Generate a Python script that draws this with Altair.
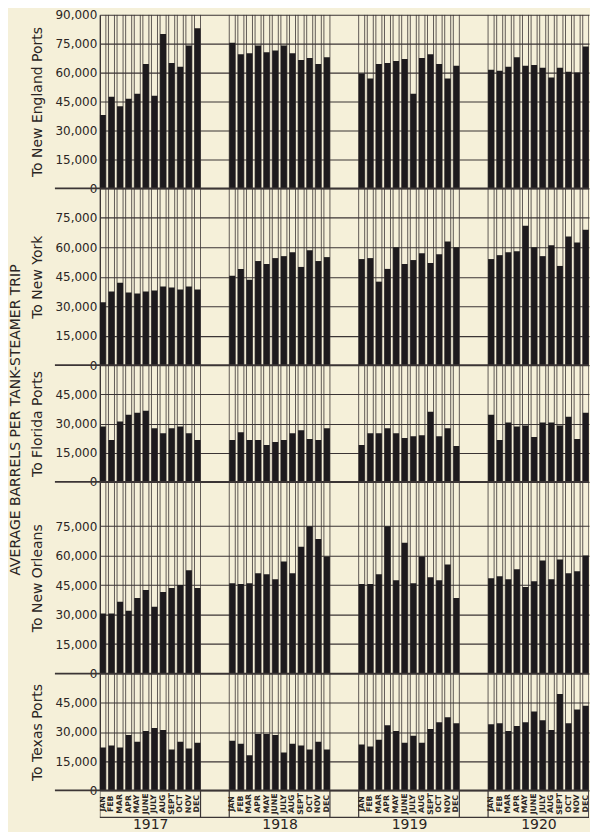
import altair as alt
import pandas as pd

YEARS = ["1917", "1918", "1919", "1920"]
MONTHS = ["JAN", "FEB", "MAR", "APR", "MAY", "JUNE", "JULY", "AUG", "SEPT", "OCT", "NOV", "DEC"]

NEW_ENGLAND = [
    38000, 47500, 42500, 46500, 49000, 64500, 48000, 80000, 65000, 63000, 74000, 83000,
    75500, 69500, 70000, 74000, 70500, 71500, 74000, 70000, 66500, 67500, 64500, 68000,
    59500, 57000, 64500, 65000, 66000, 67000, 49000, 67500, 69500, 64500, 57000, 63500,
    61500, 61000, 63000, 68000, 63500, 64000, 62500, 57500, 62500, 60500, 60000, 73500,
]
NEW_YORK = [
    32000, 37500, 42000, 37000, 36500, 37500, 38000, 40000, 39500, 38500, 40000, 38500,
    45500, 49000, 43500, 53000, 51500, 54500, 55500, 57500, 50000, 58500, 53000, 55000,
    54000, 54500, 42500, 49000, 60000, 51500, 53500, 57000, 52000, 56500, 63000, 60000,
    54000, 56000, 57500, 58000, 71000, 60000, 55500, 61000, 50500, 65500, 62500, 69000,
]
FLORIDA = [
    28500, 21500, 31000, 34500, 35500, 36500, 27500, 25000, 27500, 28500, 25000, 21500,
    21500, 25500, 21500, 21500, 19000, 20500, 21500, 25000, 26500, 22000, 21500, 27500,
    19000, 25000, 25000, 27500, 25000, 22500, 23500, 24000, 36000, 23500, 27500, 18500,
    34500, 21500, 30500, 28500, 29000, 23000, 30500, 30500, 29000, 33500, 22000, 35500,
]
NEW_ORLEANS = [
    30500, 30500, 36500, 32000, 38500, 42500, 34000, 41500, 43500, 45000, 52500, 43500,
    46000, 45500, 46000, 51000, 50500, 48000, 57000, 51000, 64500, 75000, 68500, 59500,
    45500, 45500, 50500, 75000, 47500, 66500, 46000, 59500, 49000, 47500, 55500, 38500,
    48500, 49500, 48000, 53000, 44000, 47000, 57500, 48000, 58000, 51000, 52000, 60000,
]
TEXAS = [
    22000, 23000, 22000, 28500, 25000, 30500, 32000, 31000, 21000, 25000, 21500, 24500,
    25500, 24000, 18000, 29000, 29000, 28500, 19500, 24000, 23000, 21000, 25000, 21000,
    23500, 22500, 26000, 33500, 30500, 24500, 28000, 24500, 31500, 35000, 37500, 34500,
    34000, 34500, 30500, 33000, 35000, 40500, 36000, 31000, 49500, 34500, 41500, 43500,
]

ROW_TITLES = ["To New England Ports", "To New York", "To Florida Ports", "To New Orleans", "To Texas Ports"]
ROW_VALUES = [NEW_ENGLAND, NEW_YORK, FLORIDA, NEW_ORLEANS, TEXAS]
ROW_TOPS = [90000, 90000, 60000, 97500, 60000]
ROW_TICKS = [
    [0, 15000, 30000, 45000, 60000, 75000, 90000],
    [0, 15000, 30000, 45000, 60000, 75000],
    [0, 15000, 30000, 45000],
    [0, 15000, 30000, 45000, 60000, 75000],
    [0, 15000, 30000, 45000],
]
ROW_HEIGHTS = [174, 177, 117, 192, 117]
MAIN_TITLE = "AVERAGE BARRELS PER TANK-STEAMER TRIP"

# layout constants (in month-slot units of the x scale)
BLOCK_STEP = 15.04
COL_W = 0.7
X_MAX = 56.85
W = 490
BAND_H = 27

BG = "#f5f0d9"
BAR = "#1d1a1d"
LINE = "#3b3535"
TXT = "#2a2523"
FONT = "DejaVu Sans"

xscale = alt.Scale(domain=[0, X_MAX], nice=False, zero=False)


def cells(values=None):
    recs = []
    for yi, y in enumerate(YEARS):
        for mi, m in enumerate(MONTHS):
            x0 = yi * BLOCK_STEP + mi
            r = {"year": y, "month": m, "x0": x0, "x1": x0 + COL_W, "xc": x0 + COL_W / 2}
            if values is not None:
                r["value"] = values[yi * 12 + mi]
            recs.append(r)
    return pd.DataFrame(recs)


base_cells = cells()
edges = pd.DataFrame({"x0": list(base_cells["x0"]) + list(base_cells["x1"])})

zero_label = "0\u00a0\u00a0\u00a0"


def row_chart(title, values, top, ticks, h):
    df = cells(values)
    yscale = alt.Scale(domain=[0, top], nice=False, zero=True)
    axis = alt.Axis(
        values=ticks, title=title, grid=True, gridColor=LINE, gridWidth=1.1, gridOpacity=1,
        domain=True, domainColor=LINE, domainWidth=1.3, ticks=False, labelPadding=3,
        labelFont=FONT, labelFontSize=12, labelColor=TXT,
        labelExpr="datum.value == 0 ? '" + zero_label + "' : format(datum.value, ',')",
        titleFont=FONT, titleFontSize=14, titleFontWeight="normal", titleColor=TXT,
        titlePadding=5, minExtent=50, maxExtent=50,
    )
    x_enc = alt.X("x0:Q", scale=xscale, axis=None)
    y_enc = alt.Y("value:Q", scale=yscale, axis=axis)
    lines = alt.Chart(edges).mark_rule(color=LINE, strokeWidth=0.8, clip=True).encode(
        x=x_enc
    )
    bars = alt.Chart(df).mark_rect(color=BAR, clip=True).encode(
        x=x_enc,
        x2="x1:Q",
        y=y_enc,
        y2=alt.datum(0),
    )
    zero = alt.Chart(pd.DataFrame({"value": [0]})).mark_rule(color=LINE, strokeWidth=1.8).encode(
        y=y_enc,
        x=alt.value(-45),
        x2=alt.value(W),
    )
    return alt.layer(lines, bars, zero).properties(width=W, height=h)


rows = [row_chart(t, v, tp, tk, h) for t, v, tp, tk, h in
        zip(ROW_TITLES, ROW_VALUES, ROW_TOPS, ROW_TICKS, ROW_HEIGHTS)]

# month label band and year labels
year_centers = [yi * BLOCK_STEP + (11 + COL_W) / 2 for yi in range(len(YEARS))]
year_expr = ""
for yc, y in zip(year_centers, YEARS):
    year_expr += "abs(datum.value - %s) < 1 ? '%s' : " % (round(yc, 3), y)
year_expr += "''"

block_edges = pd.DataFrame({"xc": [yi * BLOCK_STEP for yi in range(len(YEARS))] +
                            [yi * BLOCK_STEP + 11 + COL_W for yi in range(len(YEARS))]})

year_axis = alt.Axis(
    values=year_centers, labelExpr=year_expr, ticks=False, domain=False, grid=False,
    labelFont=FONT, labelFontSize=14, labelColor=TXT, labelPadding=0,
    labelFlush=False, labelOverlap=False, title=None)
bx = alt.X("xc:Q", scale=xscale, axis=year_axis)

month_text = alt.Chart(base_cells).mark_text(
    angle=270, fontSize=7.8, font=FONT, fontWeight="bold", color=TXT, clip=True,
    align="center", baseline="middle",
).encode(
    x=bx,
    y=alt.value(BAND_H / 2),
    text="month:N",
)
band_edges = alt.Chart(block_edges).mark_rule(color=LINE, strokeWidth=1.2, clip=True).encode(
    x=bx
)
band_bottom = alt.Chart(pd.DataFrame({"v": [0]})).mark_rule(color=LINE, strokeWidth=1.3).encode(
    x=alt.value(0), x2=alt.value(W), y=alt.value(BAND_H)
)
band = alt.layer(band_edges, month_text, band_bottom).properties(width=W, height=BAND_H)

chart = alt.vconcat(*rows, band, spacing=0, bounds="flush").properties(
    title=alt.TitleParams(text=MAIN_TITLE, orient="left", anchor="middle", fontSize=14,
                          font=FONT, fontWeight="normal", color=TXT, offset=8),
    padding={"left": 0, "top": 0, "right": 0, "bottom": 0},
    background=BG,
).configure_view(stroke=None)

chart.save("out.html", embed_options={"renderer": "svg", "actions": False})
